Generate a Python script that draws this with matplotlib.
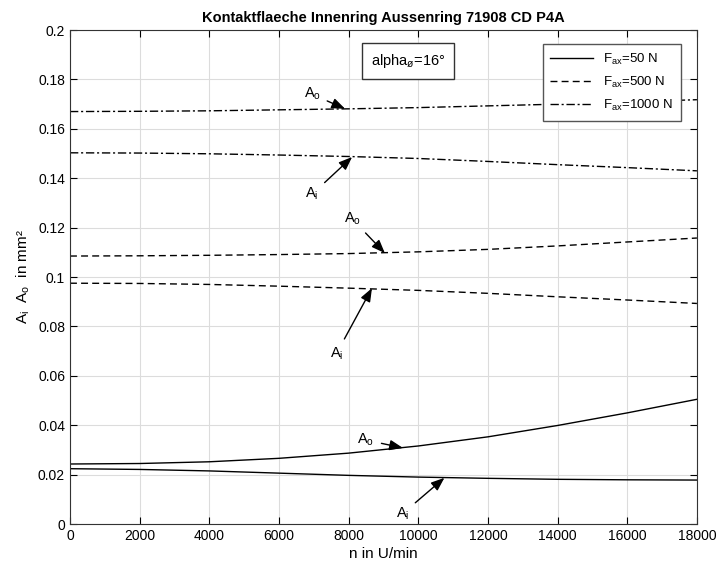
import matplotlib.pyplot as plt
import numpy as np

plt.rcParams['font.family'] = ['Liberation Sans', 'DejaVu Sans']
plt.rcParams['mathtext.default'] = 'regular'

n = [0, 2000, 4000, 6000, 8000, 10000, 12000, 14000, 16000, 18000]

ao_50 = [0.0243, 0.0245, 0.0252, 0.0266, 0.0287, 0.0316, 0.0353, 0.0399, 0.0450, 0.0505]
ai_50 = [0.0224, 0.0221, 0.0215, 0.0206, 0.0197, 0.0190, 0.0185, 0.0181, 0.0179, 0.0178]
ao_500 = [0.1085, 0.1086, 0.1088, 0.1091, 0.1095, 0.1102, 0.1112, 0.1126, 0.1142, 0.1158]
ai_500 = [0.0975, 0.0974, 0.0970, 0.0963, 0.0955, 0.0946, 0.0934, 0.0920, 0.0907, 0.0893]
ao_1000 = [0.1670, 0.1671, 0.1673, 0.1677, 0.1681, 0.1686, 0.1693, 0.1700, 0.1709, 0.1718]
ai_1000 = [0.1503, 0.1502, 0.1499, 0.1494, 0.1488, 0.1480, 0.1468, 0.1455, 0.1443, 0.1430]

# (label, text x, text y, arrow x, arrow y)
notes = [
    ("A$_o$", 6950, 0.1740, 7900, 0.1681),
    ("A$_i$", 6950, 0.1335, 8100, 0.1486),
    ("A$_o$", 8100, 0.1235, 9040, 0.1097),
    ("A$_i$", 7650, 0.0690, 8670, 0.0955),
    ("A$_o$", 8500, 0.0340, 9560, 0.0308),
    ("A$_i$", 9550, 0.0042, 10750, 0.0187),
]

fig = plt.figure(figsize=(7.17, 5.67), dpi=100)
ax = fig.add_axes([0.0976, 0.0758, 0.8744, 0.8712])

lw = 1.0
l1, = ax.plot(n, ao_50, color='k', lw=lw, ls='-')
ax.plot(n, ai_50, color='k', lw=lw, ls='-')
l2, = ax.plot(n, ao_500, color='k', lw=lw, ls=(0, (5, 3)))
ax.plot(n, ai_500, color='k', lw=lw, ls=(0, (5, 3)))
l3, = ax.plot(n, ao_1000, color='k', lw=lw, ls=(0, (6, 2, 1.5, 2)))
ax.plot(n, ai_1000, color='k', lw=lw, ls=(0, (6, 2, 1.5, 2)))

for lab, tx, ty, axx, ayy in notes:
    ax.annotate(lab, xy=(axx, ayy), xytext=(tx, ty), fontsize=10.5,
                ha='center', va='center',
                arrowprops=dict(arrowstyle='-|>,head_length=0.9,head_width=0.35',
                                color='k', lw=1.0,
                                mutation_scale=9, shrinkA=3, shrinkB=0))

ax.text(9700, 0.1875, "alpha$_ø$=16°", fontsize=10.5, ha='center', va='center',
        bbox=dict(boxstyle='square,pad=0.6', fc='white', ec='#333333', lw=1))

ax.legend([l1, l2, l3], ["F$_{ax}$=50 N", "F$_{ax}$=500 N", "F$_{ax}$=1000 N"],
          loc='upper right', fontsize=9.5, fancybox=False, edgecolor='#555555',
          framealpha=1, handlelength=3.2, borderpad=0.6, labelspacing=0.6,
          bbox_to_anchor=(0.985, 0.985))

ax.set_xlim(0, 18000)
ax.set_ylim(0, 0.2)
ax.set_xticks(np.arange(0, 18001, 2000))
ax.set_yticks(np.arange(0, 0.2001, 0.02))
ax.set_yticklabels(['0', '0.02', '0.04', '0.06', '0.08', '0.1', '0.12', '0.14', '0.16', '0.18', '0.2'])
ax.grid(True, color='#dcdcdc', lw=0.8)
ax.tick_params(direction='in', top=True, right=True, labelsize=10, length=5)
for s in ax.spines.values():
    s.set_color('#333333')

ax.set_xlabel("n in U/min", fontsize=11, labelpad=3)
ax.set_ylabel("A$_i$  A$_o$  in mm²", fontsize=11)
ax.set_title("Kontaktflaeche Innenring Aussenring 71908 CD P4A", fontsize=10.5,
             fontweight='bold', pad=6)

fig.savefig("out.png", dpi=100)
